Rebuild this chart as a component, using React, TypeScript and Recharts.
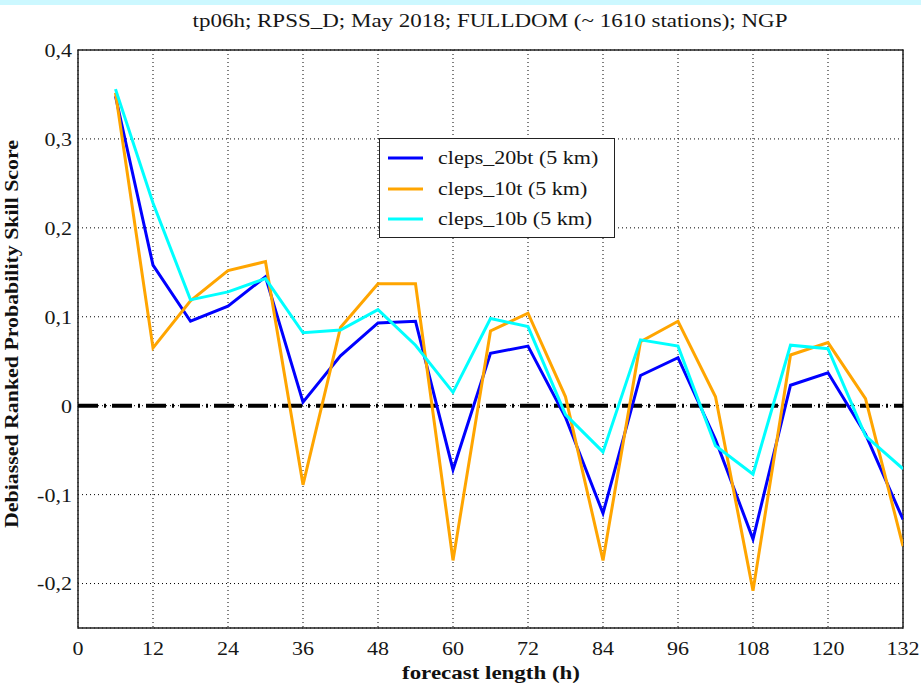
import React from 'react';
import { LineChart, Line, XAxis, YAxis, CartesianGrid, ReferenceLine, ReferenceArea, Legend } from 'recharts';

const hours = [6, 12, 18, 24, 30, 36, 42, 48, 54, 60, 66, 72, 78, 84, 90, 96, 102, 108, 114, 120, 126, 132];
const cleps20bt = [0.348, 0.158, 0.095, 0.112, 0.145, 0.004, 0.056, 0.093, 0.095, -0.072, 0.059, 0.067, -0.013, -0.121, 0.034, 0.054, -0.038, -0.150, 0.023, 0.037, -0.032, -0.128];
const cleps10t = [0.352, 0.065, 0.118, 0.152, 0.162, -0.089, 0.088, 0.137, 0.137, -0.174, 0.084, 0.104, 0.010, -0.174, 0.072, 0.095, 0.010, -0.208, 0.057, 0.071, 0.008, -0.158];
const cleps10b = [0.356, 0.228, 0.119, 0.128, 0.143, 0.082, 0.085, 0.108, 0.068, 0.015, 0.098, 0.089, -0.010, -0.052, 0.074, 0.067, -0.045, -0.077, 0.068, 0.064, -0.034, -0.071];

const xTicks = [0, 12, 24, 36, 48, 60, 72, 84, 96, 108, 120, 132];
const yTicks = [-0.2, -0.1, 0, 0.1, 0.2, 0.3, 0.4];

const seriesKeys = ['a', 'b', 'c'];
const seriesNames = ['cleps_20bt (5 km)', 'cleps_10t (5 km)', 'cleps_10b (5 km)'];
const seriesColors = ['#0000ff', '#ffa500', '#00ffff'];

const titleText = 'tp06h; RPSS_D; May 2018; FULLDOM (~ 1610 stations); NGP';
const xLabel = 'forecast length (h)';
const yLabel = 'Debiassed Ranked Probability Skill Score';

const data = hours.map((h, i) => ({ h, a: cleps20bt[i], b: cleps10t[i], c: cleps10b[i] }));

const fmt = (v: number) => (Math.abs(v) < 1e-9 ? '0' : v.toFixed(1).replace('.', ','));

const FONT = "'Liberation Serif', 'Times New Roman', Times, serif";
const STRETCH = 1.13;

const XTick = (props: any) => {
  const { x, y, payload } = props;
  return (
    <text
      x={x}
      y={y}
      dy="0.71em"
      textAnchor="middle"
      fontSize={19.5}
      fill="#161616"
      fontFamily={FONT}
      transform={`translate(${x} 0) scale(${STRETCH} 1) translate(${-x} 0)`}
    >
      {payload.value}
    </text>
  );
};

const YTick = (props: any) => {
  const { x, y, payload } = props;
  return (
    <text
      x={x}
      y={y}
      dy="0.355em"
      textAnchor="end"
      fontSize={19.5}
      fill="#161616"
      fontFamily={FONT}
      transform={`translate(${x} 0) scale(${STRETCH} 1) translate(${-x} 0)`}
    >
      {fmt(payload.value)}
    </text>
  );
};

const LegendBox = () => (
  <div
    className="serif"
    style={{
      width: 236,
      height: 100,
      boxSizing: 'border-box',
      border: '1.5px solid #222',
      background: '#fff',
      position: 'relative',
    }}
  >
    {seriesNames.map((n, i) => (
      <div key={n} style={{ position: 'absolute', left: 0, top: 19 + i * 30.5 - 12, height: 24, width: 236 }}>
        <svg width={50} height={24} style={{ position: 'absolute', left: 0, top: 0 }}>
          <line x1={8} x2={43} y1={12} y2={12} stroke={seriesColors[i]} strokeWidth={3} />
        </svg>
        <span
          className="serif"
          style={{
            position: 'absolute',
            left: 58,
            top: 0,
            fontSize: 19.5,
            lineHeight: '24px',
            color: '#161616',
            whiteSpace: 'nowrap',
            transform: `scaleX(${STRETCH})`,
            transformOrigin: '0 50%',
          }}
        >
          {n}
        </span>
      </div>
    ))}
  </div>
);

export default function App() {
  return (
    <div className="serif" style={{ position: 'absolute', left: 0, top: 0, width: 921, height: 686, background: '#fff' }}>
      <style>{`.serif, .serif text, .serif span, .recharts-wrapper text { font-family: 'Liberation Serif', 'Times New Roman', Times, serif !important; }`}</style>
      <div style={{ position: 'absolute', left: 0, top: 0, width: 921, height: 5, background: '#ccf8ff' }} />
      <LineChart width={921} height={686} data={data} margin={{ top: 50, right: 18, bottom: 28, left: 18 }}>
        <CartesianGrid stroke="#000" strokeDasharray="1 3" strokeWidth={1} />
        <XAxis
          dataKey="h"
          type="number"
          domain={[0, 132]}
          ticks={xTicks}
          height={30}
          axisLine={false}
          tickLine={false}
          tickSize={6}
          tickMargin={7}
          tick={<XTick />}
          allowDataOverflow
        />
        <YAxis
          type="number"
          domain={[-0.25, 0.4]}
          ticks={yTicks}
          width={60}
          axisLine={false}
          tickLine={false}
          tickSize={4}
          tickMargin={2}
          tick={<YTick />}
          allowDataOverflow
        />
        <ReferenceArea x1={0} x2={132} y1={-0.25} y2={0.4} fill="none" fillOpacity={0} stroke="#222" strokeWidth={1.5} />
        <ReferenceLine y={0} stroke="#000" strokeWidth={4} strokeDasharray="20 6 2 6" />
        {seriesKeys.map((k, i) => (
          <Line
            key={k}
            type="linear"
            dataKey={k}
            name={seriesNames[i]}
            stroke={seriesColors[i]}
            strokeWidth={3}
            dot={false}
            activeDot={false}
            isAnimationActive={false}
          />
        ))}
        <Legend
          layout="vertical"
          align="center"
          verticalAlign="middle"
          content={() => <LegendBox />}
          wrapperStyle={{ position: 'absolute', left: 379, top: 138, width: 236, height: 100 }}
        />
      </LineChart>
      <svg width={921} height={686} style={{ position: 'absolute', left: 0, top: 0, pointerEvents: 'none' }}>
        <text x={490} y={27} textAnchor="middle" fontSize={19} fill="#161616" fontFamily={FONT} textLength={595} lengthAdjust="spacingAndGlyphs">
          {titleText}
        </text>
        <text x={491} y={679} textAnchor="middle" fontSize={19} fontWeight="bold" fill="#111" fontFamily={FONT} textLength={178} lengthAdjust="spacingAndGlyphs">
          {xLabel}
        </text>
        <text
          x={0}
          y={0}
          transform="translate(18,334) rotate(-90)"
          textAnchor="middle"
          fontSize={19}
          fontWeight="bold"
          fill="#111"
          fontFamily={FONT}
          textLength={388}
          lengthAdjust="spacingAndGlyphs"
        >
          {yLabel}
        </text>
      </svg>
    </div>
  );
}
